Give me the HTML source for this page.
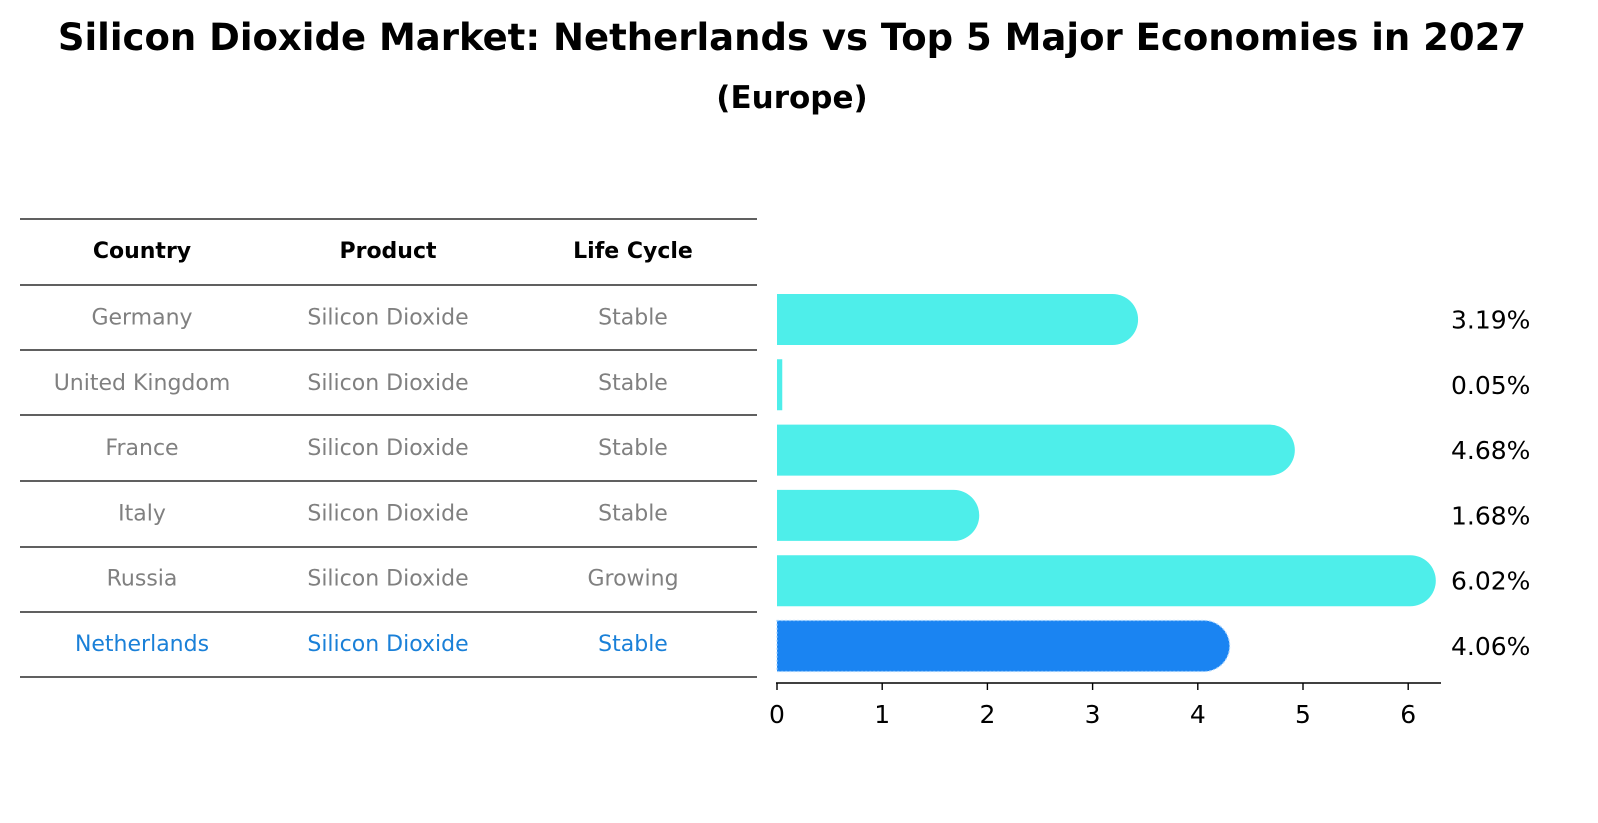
<!DOCTYPE html>
<html><head><meta charset="utf-8"><style>
html,body{margin:0;padding:0;background:#fff;overflow:hidden;width:1598px;height:823px;}
svg{display:block;}
svg text{font-family:"DejaVu Sans","Liberation Sans",sans-serif;}
</style></head><body>
<svg width="1598" height="823" viewBox="0 0 1598 823">
<text x="792" y="50" text-anchor="middle" font-size="37" font-weight="bold">Silicon Dioxide Market: Netherlands vs Top 5 Major Economies in 2027</text>
<text x="792" y="108" text-anchor="middle" font-size="31" font-weight="bold">(Europe)</text>
<g id="table"></g>
<g id="bars"></g>
</svg>
<script>
const countries=["Germany","United Kingdom","France","Italy","Russia","Netherlands"];
const products=["Silicon Dioxide","Silicon Dioxide","Silicon Dioxide","Silicon Dioxide","Silicon Dioxide","Silicon Dioxide"];
const lifeCycles=["Stable","Stable","Stable","Stable","Growing","Stable"];
const values=[3.19,0.05,4.68,1.68,6.02,4.06];
const ticks=[0,1,2,3,4,5,6];
const NS="http://www.w3.org/2000/svg";
function mk(t,a,p){const e=document.createElementNS(NS,t);for(const k in a)e.setAttribute(k,a[k]);p.appendChild(e);return e;}
const tbl=document.getElementById('table'),bars=document.getElementById('bars');
const x=v=>777+v*105.2;
const rowY=i=>317.5+i*65.3;
const cols=[142,388,633];
const hdr=["Country","Product","Life Cycle"];
hdr.forEach((h,j)=>{const t=mk('text',{x:cols[j],y:258,'text-anchor':'middle','font-size':22,'font-weight':'bold'},tbl);t.textContent=h;

});
[219,285,350,415,481,547,612,677].forEach(y=>{const l=mk('line',{x1:20,x2:757,y1:y,y2:y,stroke:'#000','stroke-width':1.2},tbl);

});
countries.forEach((c,i)=>{
 const col=i===countries.length-1?'#1a80d8':'#808080';
 [c,products[i],lifeCycles[i]].forEach((s,j)=>{const t=mk('text',{x:cols[j],y:rowY(i)+7,'text-anchor':'middle','font-size':22,fill:col},tbl);t.textContent=s;
 
 });
 const cy=rowY(i)+2,h=51,r=25.5,w=x(values[i])-x(0);
 const last=i===countries.length-1;
 const fill=last?'#1a84f2':'#4eeeea';
 let d;
 if(w>r) d=`M${x(0)},${cy-h/2} H${x(values[i])} A${r},${r} 0 0 1 ${x(values[i])},${cy+h/2} H${x(0)} Z`;
 else d=`M${x(0)},${cy-h/2} H${x(values[i])} V${cy+h/2} H${x(0)} Z`;
 const attrs={d:d,fill:fill};
 if(last){attrs.stroke='#9fd0ff';attrs['stroke-width']=1.2;attrs['stroke-dasharray']='2,2';}
 const b=mk('path',attrs,bars);
 
 
 const lt=mk('text',{x:1451,y:cy+9,'font-size':25},bars);lt.textContent=values[i].toFixed(2)+'%';
 
 
});
const ax=mk('line',{x1:776,x2:1441,y1:683,y2:683,stroke:'#000','stroke-width':1.5},bars);


ticks.forEach(v=>{mk('line',{x1:x(v),x2:x(v),y1:683,y2:690,stroke:'#000','stroke-width':1.4},bars);
 const t=mk('text',{x:x(v),y:723,'text-anchor':'middle','font-size':25},bars);t.textContent=v;
 
 });
</script>
</body></html>
